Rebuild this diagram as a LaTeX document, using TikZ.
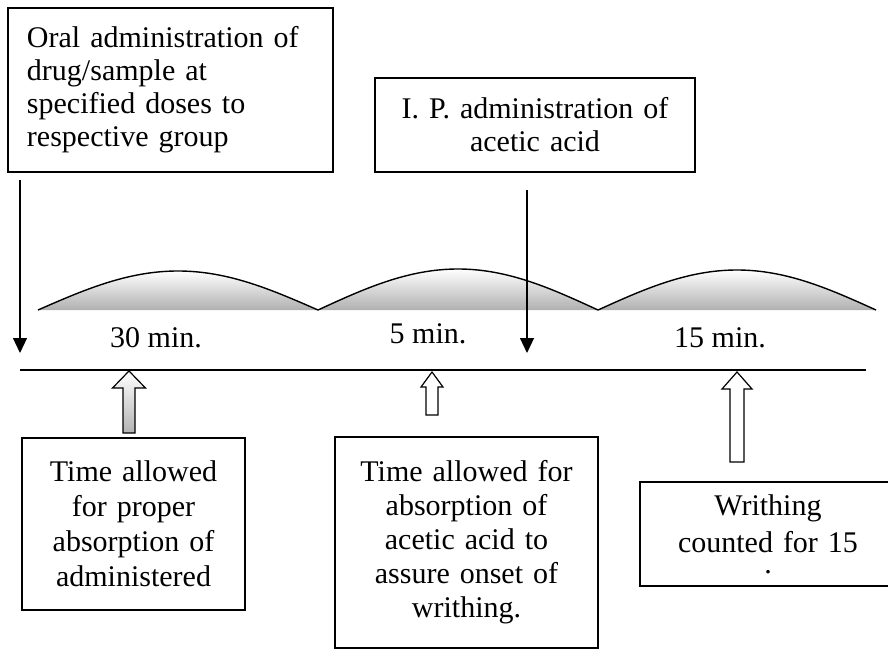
\documentclass[tikz,border=0pt]{standalone}
\usepackage{fontspec}
\setmainfont{Liberation Serif}
\usetikzlibrary{arrows.meta,calc}
\tikzset{
  boxnode/.style={draw, line width=1.3pt, rectangle, inner sep=0pt, font=\fontsize{30}{33}\selectfont},
  timelbl/.style={anchor=base, inner sep=0pt, font=\fontsize{30}{33}\selectfont},
  downarrow/.style={line width=1.2pt, -{Triangle[width=14pt,length=15pt]}},
  hollow/.style={draw, line width=1.2pt, fill=white, line join=miter},
  humpline/.style={line width=1.4pt},
}
\begin{document}
\begin{tikzpicture}[x=1pt,y=-1pt]
\useasboundingbox (0,0) rectangle (888,652);
% top boxes
\node[boxnode, minimum width=325, minimum height=164, text width=287, align=left] (oral) at (170.5,90)
  {Oral administration of\\drug/sample at\\specified doses to\\respective group};
\node[boxnode, minimum width=320, minimum height=94, text width=300, align=center] (ip) at (535,125)
  {I. P. administration of\\acetic acid};
% humps
\foreach \a/\b/\c/\py in {38/178/318/271, 318/458/598/269, 598/737/876/270}{
  \shade[top color=white, middle color=gray!22, bottom color=gray!62]
    (\a,310) sin (\b,\py) cos (\c,310) -- cycle;
  \draw[humpline] (\a,310) sin (\b,\py) cos (\c,310);
}
% down arrows
\coordinate (d1s) at (20,180);
\coordinate (d1e) at (20,353);
\coordinate (d2s) at (527,190);
\coordinate (d2e) at (527,353);
\draw[downarrow] (d1s) -- (d1e);
\draw[downarrow] (d2s) -- (d2e);
% time labels
\node[timelbl] (t30) at (156,347) {30 min.};
\node[timelbl] (t5) at (428,343) {5 min.};
\node[timelbl] (t15) at (720,347) {15 min.};
% timeline
\coordinate (tlA) at (20,370);
\coordinate (tlB) at (866,370);
\draw[line width=1.5pt] (tlA) -- (tlB);
% bottom boxes
\node[boxnode, minimum width=223, minimum height=172, text width=210, align=center,
      font=\fontsize{30}{35}\selectfont] (b1) at (133.5,524)
  {Time allowed\\for proper\\absorption of\\administered};
\node[boxnode, minimum width=263, minimum height=211, text width=250, align=center,
      font=\fontsize{30}{34}\selectfont] (b2) at (466.5,542.5)
  {Time allowed for\\absorption of\\acetic acid to\\assure onset of\\writhing.};
\node[boxnode, minimum width=256, minimum height=104, text width=240, align=center,
      font=\fontsize{30}{37}\selectfont] (b3) at (768,534)
  {Writhing\\counted for 15\\[-16pt].};
% hollow up arrows (timeline -> boxes)
\coordinate (u1) at (129,371);
\coordinate (u2) at (432,372);
\coordinate (u3) at (737,372);
\shadedraw[hollow, top color=white, bottom color=gray!60]
  (u1) -- ++(16.5,17) -- ++(-10.5,0) -- ++(0,45) -- ++(-12,0) -- ++(0,-45) -- ++(-10.5,0) -- cycle;
\draw[hollow]
  (u2) -- ++(11,15) -- ++(-5,0) -- ++(0,28) -- ++(-12,0) -- ++(0,-28) -- ++(-5,0) -- cycle;
\draw[hollow]
  (u3) -- ++(15,17) -- ++(-8,0) -- ++(0,73) -- ++(-14,0) -- ++(0,-73) -- ++(-8,0) -- cycle;
\end{tikzpicture}
\end{document}
